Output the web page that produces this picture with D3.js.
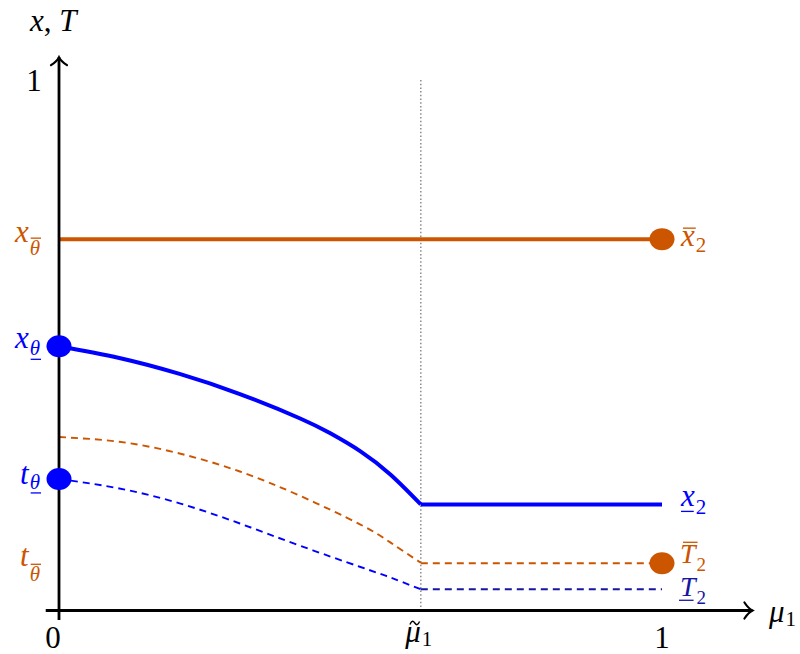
<!DOCTYPE html>
<html>
<head>
<meta charset="utf-8">
<script src="https://cdn.jsdelivr.net/npm/d3@7"></script>
<style>
  body { margin: 0; background: #fff; }
</style>
</head>
<body>
<div id="chart"></div>
<script>
// Values (mu_1 on x, level on y, both 0..1)
const muTilde = 0.6;
const xBarTheta = 0.70;          // x_{bar theta}, flat orange line
const xLowTheta = 0.498;         // x_{underline theta}
const tLowTheta = 0.248;         // t_{underline theta}
const xLow2 = 0.20;              // underline x_2
const TBar2 = 0.089;             // bar T_2
const TLow2 = 0.040;             // underline T_2

// solid blue curve: underline x before mu tilde
const xLowCurve = [
  [0, 0.498], [0.10, 0.476], [0.20, 0.446], [0.30, 0.408], [0.40, 0.362],
  [0.45, 0.334], [0.50, 0.300], [0.55, 0.256], [0.60, 0.200]
];
// dashed orange curve: bar T before mu tilde
const TBarCurve = [
  [0, 0.327], [0.10, 0.318], [0.20, 0.296], [0.30, 0.262], [0.40, 0.216],
  [0.50, 0.162], [0.55, 0.128], [0.60, 0.090]
];
// dashed blue curve: underline T before mu tilde
const TLowCurve = [
  [0, 0.248], [0.10, 0.230], [0.20, 0.202], [0.30, 0.164], [0.40, 0.122],
  [0.50, 0.082], [0.55, 0.062], [0.60, 0.040]
];

const ORANGE = "#cc5500";
const BLUE = "#0000ff";
const NAVY = "#1616a0";
const FONT = "'Liberation Serif', 'Times New Roman', Times, serif";

const width = 800, height = 654;
const svg = d3.select("#chart").append("svg")
  .attr("width", width).attr("height", height)
  .attr("font-family", FONT);

const x = d3.scaleLinear().domain([0, 1]).range([59, 662]);
const y = d3.scaleLinear().domain([0, 1]).range([610.5, 80]);

const line = d3.line().x(d => x(d[0])).y(d => y(d[1]));
const curve = d3.line().x(d => x(d[0])).y(d => y(d[1])).curve(d3.curveNatural);

// Math-like label: main glyph + subscript, optional bar over/under either
function mathLabel(sel, px, py, o) {
  const size = o.size || 31, subSize = o.subSize || 21;
  const g = sel.append("g").attr("fill", o.color || "#000");
  const m = g.append("text").attr("font-size", size)
    .attr("font-style", o.mainItalic === false ? "normal" : "italic").text(o.main);
  const w1 = m.node().getComputedTextLength();
  let w = w1, w2 = 0, sx = w1 + (o.gap || 1);
  if (o.sub) {
    const s = g.append("text").attr("x", sx).attr("y", o.subDy || 8)
      .attr("font-size", subSize)
      .attr("font-style", o.subItalic === false ? "normal" : "italic").text(o.sub);
    w2 = s.node().getComputedTextLength();
    w = sx + w2;
  }
  const bar = (x0, x1, yy) => g.append("line")
    .attr("x1", x0).attr("x2", x1).attr("y1", yy).attr("y2", yy)
    .attr("stroke", o.color || "#000").attr("stroke-width", 1.3);
  if (o.mainBar) bar(o.mainBar[0] + 1, w1 + o.mainBar[0], o.mainBar[1]);
  if (o.subBar !== undefined) bar(sx + 1, sx + w2 + 1, o.subBar);
  if (o.tilde !== undefined) {
    const t0 = w1 * 0.3, tw = w1 * 0.62;
    g.append("path")
      .attr("d", `M${t0},${o.tilde + 1.5} C${t0 + tw * 0.2},${o.tilde - 3} ${t0 + tw * 0.35},${o.tilde - 2} ${t0 + tw * 0.5},${o.tilde}`
        + ` S${t0 + tw * 0.8},${o.tilde + 3} ${t0 + tw},${o.tilde - 1.5}`)
      .attr("fill", "none").attr("stroke", o.color || "#000").attr("stroke-width", 1.4);
  }
  const dx = o.anchor === "end" ? -w : o.anchor === "middle" ? -w / 2 : 0;
  g.attr("transform", `translate(${px + dx},${py})`);
  return g;
}

// dotted guide at mu tilde
svg.append("line")
  .attr("x1", x(muTilde)).attr("x2", x(muTilde))
  .attr("y1", y(1)).attr("y2", y(0))
  .attr("stroke", "#8c8c8c").attr("stroke-width", 1.5)
  .attr("stroke-dasharray", "1.5,2.2");

// dashed curves
svg.append("path").datum(TLowCurve).attr("d", curve)
  .attr("fill", "none").attr("stroke", BLUE).attr("stroke-width", 1.9)
  .attr("stroke-dasharray", "7,5");
svg.append("path").datum([[muTilde, TLow2], [1, TLow2]]).attr("d", line)
  .attr("fill", "none").attr("stroke", NAVY).attr("stroke-width", 1.9)
  .attr("stroke-dasharray", "7,5");
svg.append("path").datum(TBarCurve).attr("d", curve)
  .attr("fill", "none").attr("stroke", ORANGE).attr("stroke-width", 1.9)
  .attr("stroke-dasharray", "7,5");
svg.append("path").datum([[muTilde, TBar2], [1, TBar2]]).attr("d", line)
  .attr("fill", "none").attr("stroke", ORANGE).attr("stroke-width", 1.9)
  .attr("stroke-dasharray", "7,5");

// solid lines
svg.append("path").datum([[0, xBarTheta], [1, xBarTheta]]).attr("d", line)
  .attr("fill", "none").attr("stroke", ORANGE).attr("stroke-width", 4);
svg.append("path").datum(xLowCurve).attr("d", curve)
  .attr("fill", "none").attr("stroke", BLUE).attr("stroke-width", 4);
svg.append("path").datum([[muTilde, xLow2], [1, xLow2]]).attr("d", line)
  .attr("fill", "none").attr("stroke", BLUE).attr("stroke-width", 4);

// axes
const ax = svg.append("g").attr("stroke", "#000").attr("stroke-width", 2.8).attr("fill", "none");
ax.append("line").attr("x1", x(-0.022)).attr("x2", x(1.15)).attr("y1", y(0)).attr("y2", y(0));
ax.append("line").attr("x1", x(0)).attr("x2", x(0)).attr("y1", y(-0.018)).attr("y2", y(1.043));
const xt = x(1.15), yt = y(1.043);
ax.append("path").attr("stroke-width", 2.2).attr("stroke-linecap", "round")
  .attr("d", `M${xt - 8},${y(0) - 8} Q${xt - 4},${y(0) - 2} ${xt},${y(0)} Q${xt - 4},${y(0) + 2} ${xt - 8},${y(0) + 8}`);
ax.append("path").attr("stroke-width", 2.2).attr("stroke-linecap", "round")
  .attr("d", `M${x(0) - 8},${yt + 8} Q${x(0) - 2},${yt + 4} ${x(0)},${yt} Q${x(0) + 2},${yt + 4} ${x(0) + 8},${yt + 8}`);

// dots
const dots = [
  { mu: 0, v: xLowTheta, c: BLUE },
  { mu: 0, v: tLowTheta, c: BLUE },
  { mu: 1, v: xBarTheta, c: ORANGE },
  { mu: 1, v: TBar2, c: ORANGE }
];
svg.selectAll("ellipse.dot").data(dots).join("ellipse")
  .attr("class", "dot")
  .attr("cx", d => x(d.mu)).attr("cy", d => y(d.v))
  .attr("rx", 12.5).attr("ry", 11)
  .attr("fill", d => d.c);

// axis labels
const t0 = svg.append("text").attr("x", 30).attr("y", 31).attr("font-size", 31);
t0.append("tspan").attr("font-style", "italic").text("x");
t0.append("tspan").text(", ");
t0.append("tspan").attr("font-style", "italic").text("T");
svg.append("text").attr("x", 34).attr("y", y(1) + 11).attr("font-size", 31)
  .attr("text-anchor", "middle").text("1");
svg.append("text").attr("x", x(0) - 6).attr("y", 648).attr("font-size", 31)
  .attr("text-anchor", "middle").text("0");
svg.append("text").attr("x", x(1)).attr("y", 648).attr("font-size", 31)
  .attr("text-anchor", "middle").text("1");
mathLabel(svg, x(muTilde) - 2, 642, { main: "μ", sub: "1", subItalic: false, subDy: 4, anchor: "middle", tilde: -19 });
mathLabel(svg, 769, 622, { main: "μ", sub: "1", subItalic: false, subDy: 4 });

// left labels
mathLabel(svg, 40, y(xBarTheta) + 3, { main: "x", sub: "θ", color: ORANGE, anchor: "end", subDy: 13, subBar: -4 });
mathLabel(svg, 40, y(xLowTheta) + 2, { main: "x", sub: "θ", color: BLUE, anchor: "end", subDy: 7, subBar: 11 });
mathLabel(svg, 40, y(tLowTheta) + 5, { main: "t", sub: "θ", color: BLUE, anchor: "end", subDy: 5, subBar: 9 });
mathLabel(svg, 40, y(TBar2) + 3, { main: "t", sub: "θ", color: ORANGE, anchor: "end", subDy: 15, subBar: -2 });

// right labels
mathLabel(svg, 681, y(xBarTheta) + 7, { main: "x", sub: "2", subItalic: false, color: ORANGE, subDy: 6, mainBar: [1, -18] });
mathLabel(svg, 681, y(xLow2) + 2, { main: "x", sub: "2", subItalic: false, color: BLUE, subDy: 8, mainBar: [-1, 5] });
mathLabel(svg, 680, y(TBar2), { main: "T", sub: "2", subItalic: false, color: ORANGE, size: 28, subSize: 19, subDy: 8, mainBar: [2, -21] });
mathLabel(svg, 680, y(TLow2) + 7, { main: "T", sub: "2", subItalic: false, color: NAVY, size: 28, subSize: 19, subDy: 8, mainBar: [-2, 4] });
</script>
</body>
</html>
